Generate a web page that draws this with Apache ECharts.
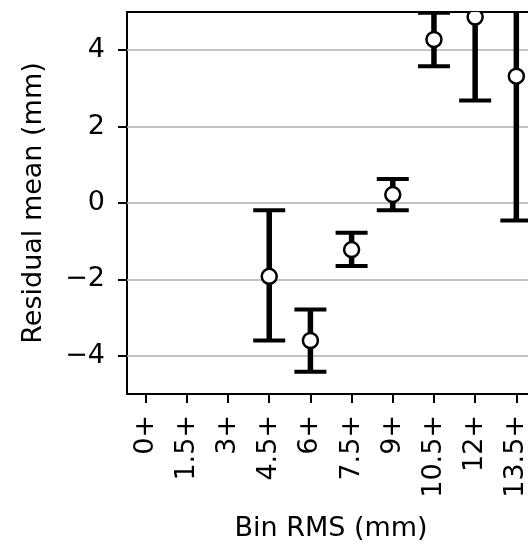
<!DOCTYPE html>
<html>
<head>
    <meta charset="utf-8">
    <title>Residual mean by bin RMS</title>
    <script src="https://cdn.jsdelivr.net/npm/echarts@6/dist/echarts.min.js"></script>
    <style>
        html, body { margin: 0; padding: 0; background: #fff; }
    </style>
</head>
<body>
<div id="main" style="width: 528px;height:544px;"></div>
<script type="text/javascript">
// bins (start of each RMS bin, mm) and their tick labels
var binStarts = [0, 1.5, 3, 4.5, 6, 7.5, 9, 10.5, 12, 13.5];
var tickLabels = ['0+', '1.5+', '3+', '4.5+', '6+', '7.5+', '9+', '10.5+', '12+', '13.5+'];
var yTicks = [-4, -2, 0, 2, 4];

// residual mean and error bar ends per bin (null = empty bin)
var means = [null, null, null, -1.92, -3.60, -1.22, 0.22, 4.28, 4.87, 3.32];
var lows  = [null, null, null, -3.60, -4.42, -1.65, -0.19, 3.58, 2.68, -0.46];
var highs = [null, null, null, -0.19, -2.79, -0.78, 0.63, 4.98, 7.06, 7.10];

var FONT = 'DejaVu Sans';

var points = [];
binStarts.forEach(function (b, i) {
    if (means[i] !== null) points.push([b, means[i], lows[i], highs[i]]);
});

var myChart = echarts.init(document.getElementById('main'));
myChart.setOption({
    animation: false,
    grid: {
        left: 127, top: 12, right: -7, bottom: 150,
        outerBoundsMode: 'none',
        show: true, borderColor: '#000', borderWidth: 2
    },
    xAxis: {
        type: 'value',
        min: -0.68, max: 14.18,
        name: 'Bin RMS (mm)',
        nameLocation: 'middle',
        nameGap: 121,
        nameTextStyle: { fontFamily: FONT, fontSize: 27, color: '#000' },
        axisLine: { show: false, onZero: false },
        axisTick: { show: true, length: 9, lineStyle: { color: '#000', width: 2 }, customValues: binStarts },
        axisLabel: {
            customValues: binStarts,
            rotate: 90, margin: 21,
            fontFamily: FONT, fontSize: 27, color: '#000',
            formatter: function (v) { return tickLabels[binStarts.indexOf(v)]; }
        },
        splitLine: { show: false }
    },
    yAxis: {
        type: 'value',
        min: -5, max: 5,
        name: 'Residual mean (mm)',
        nameLocation: 'middle',
        nameGap: 80,
        nameTextStyle: { fontFamily: FONT, fontSize: 27, color: '#000' },
        axisLine: { show: false, onZero: false },
        axisTick: { show: true, length: 9, lineStyle: { color: '#000', width: 2 }, customValues: yTicks },
        axisLabel: {
            customValues: yTicks,
            margin: 22,
            fontFamily: FONT, fontSize: 27, color: '#000',
            formatter: function (v) { return String(v).replace('-', '\u2212'); }
        },
        splitLine: { show: true, lineStyle: { color: '#b0b0b0', width: 1.5 } }
    },
    series: [{
        type: 'custom',
        clip: true,
        data: points,
        renderItem: function (params, api) {
            var x = api.coord([api.value(0), api.value(1)])[0];
            var yMean = api.coord([api.value(0), api.value(1)])[1];
            var yLow = api.coord([api.value(0), api.value(2)])[1];
            var yHigh = api.coord([api.value(0), api.value(3)])[1];
            var cap = 16;
            var barStyle = { stroke: '#000', lineWidth: 5.5 };
            var capStyle = { stroke: '#000', lineWidth: 4 };
            return {
                type: 'group',
                children: [
                    { type: 'line', shape: { x1: x, y1: yLow, x2: x, y2: yHigh }, style: barStyle },
                    { type: 'line', shape: { x1: x - cap, y1: yLow, x2: x + cap, y2: yLow }, style: capStyle },
                    { type: 'line', shape: { x1: x - cap, y1: yHigh, x2: x + cap, y2: yHigh }, style: capStyle },
                    { type: 'circle', shape: { cx: x, cy: yMean, r: 7.5 }, style: { fill: '#fff', stroke: '#000', lineWidth: 2.5 } }
                ]
            };
        }
    }]
});
</script>
</body>
</html>
